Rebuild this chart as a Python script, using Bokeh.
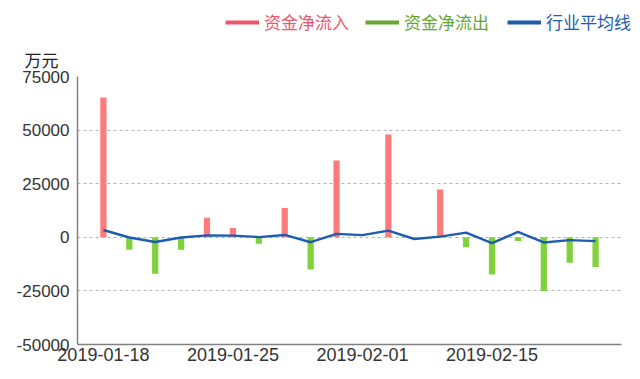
from bokeh.plotting import figure
from bokeh.layouts import column
from bokeh.models import (ColumnDataSource, FixedTicker, Legend, LegendItem, Title)
from bokeh.embed import file_html
from bokeh.resources import INLINE

# ---- data ----
dates = ["2019-01-18", "2019-01-21", "2019-01-22", "2019-01-23", "2019-01-24",
         "2019-01-25", "2019-01-28", "2019-01-29", "2019-01-30", "2019-01-31",
         "2019-02-01", "2019-02-11", "2019-02-12", "2019-02-13", "2019-02-14",
         "2019-02-15", "2019-02-18", "2019-02-19", "2019-02-20", "2019-02-21"]
inflow = [65200, 0, 0, 0, 9100, 4300, 0, 13700, 0, 35800,
          0, 48000, 0, 22300, 0, 0, 0, 0, 0, 0]
outflow = [0, -5800, -17000, -5800, 0, 0, -3000, 0, -15000, 0,
           0, 0, 0, 0, -4600, -17400, -1700, -25100, -11900, -13900]
industry_avg = [3400, -100, -2200, -100, 900, 800, 100, 1100, -2300, 1600,
                1000, 3100, -800, 300, 2200, -2700, 2500, -2400, -1300, -1800]
y_ticks = [-50000, -25000, 0, 25000, 50000, 75000]
x_tick_idx = [0, 5, 10, 15]
series_names = ["资金净流入", "资金净流出", "行业平均线"]
unit_label = "万元"

RED_BAR = "#ff7b7b"
RED = "#f0566a"
GREEN_BAR = "#7fd23a"
GREEN = "#66a832"
BLUE = "#1d5cb0"

W = 640
HEADER_H = 40
MAIN_H = 379 - HEADER_H

# ---------------- header (legends) ----------------
hdr = figure(width=W, height=HEADER_H, output_backend="svg", toolbar_location=None,
             x_range=(0, W), y_range=(0, HEADER_H), min_border=0,
             x_axis_location=None, y_axis_location=None)
hdr.frame_align = False
hdr.outline_line_color = None
hdr.xgrid.grid_line_color = None
hdr.ygrid.grid_line_color = None
hdr.border_fill_color = "white"
hdr.background_fill_color = "white"

leg_colors = [RED, GREEN, BLUE]
leg_x = [225, 365, 507]
for name, col, lx in zip(series_names, leg_colors, leg_x):
    # legend-only renderer, its points lie outside the visible header range
    r = hdr.line(x=[-20, -10], y=[-20, -10], line_color=col, line_width=4)
    lg = Legend(items=[LegendItem(label=name, renderers=[r])],
                location=(lx, HEADER_H - 34), orientation="horizontal",
                glyph_width=34, glyph_height=20, label_standoff=5,
                padding=0, margin=0, spacing=0,
                border_line_color=None, background_fill_alpha=0,
                label_text_font="Noto Sans CJK SC", label_text_font_size="17px",
                label_text_color=col)
    hdr.add_layout(lg, "center")

# ---------------- main chart ----------------
idx = list(range(len(dates)))
src = ColumnDataSource(dict(x=idx, inflow=inflow, outflow=outflow, avg=industry_avg))

p = figure(width=W, height=MAIN_H, output_backend="svg", toolbar_location=None,
           x_range=(-1, len(dates)), y_range=(y_ticks[0], y_ticks[-1]),
           min_border_left=77, min_border_right=19, min_border_top=73 - HEADER_H,
           min_border_bottom=35)
p.frame_align = False
p.outline_line_color = None
p.background_fill_color = "white"
p.border_fill_color = "white"

p.add_layout(Title(text=unit_label, align="left", offset=-53, standoff=9,
                   text_font="Noto Sans CJK SC", text_font_size="17px",
                   text_font_style="normal", text_color="#222222"), "above")

p.vbar(x="x", top="inflow", bottom=0, width=0.24, source=src,
       fill_color=RED_BAR, line_color=None)
p.vbar(x="x", top="outflow", bottom=0, width=0.24, source=src,
       fill_color=GREEN_BAR, line_color=None)
p.line(x="x", y="avg", source=src, line_color=BLUE, line_width=2.4)

p.xgrid.grid_line_color = None
p.ygrid.grid_line_color = "#b4b4b4"
p.ygrid.grid_line_dash = "3 3"
p.ygrid.grid_line_width = 1
p.yaxis.ticker = FixedTicker(ticks=y_ticks)
p.yaxis.major_label_overrides = {t: str(t) for t in y_ticks}
p.xaxis.ticker = FixedTicker(ticks=x_tick_idx)
p.xaxis.major_label_overrides = {i: dates[i] for i in x_tick_idx}
for ax in (p.xaxis, p.yaxis):
    ax.axis_line_color = "#808080"
    ax.axis_line_width = 1.5
    ax.major_tick_line_color = None
    ax.minor_tick_line_color = None
    ax.major_tick_out = 0
    ax.major_tick_in = 0
    ax.minor_tick_out = 0
    ax.minor_tick_in = 0
    ax.major_label_text_font = "Liberation Sans"
    ax.major_label_text_color = "#333333"
p.xaxis.major_label_text_font_size = "18px"
p.yaxis.major_label_text_font_size = "17px"
p.xaxis.major_label_standoff = 3
p.yaxis.major_label_standoff = 8

layout = column(hdr, p, spacing=0)
open("out.html", "w").write(file_html(layout, INLINE))
